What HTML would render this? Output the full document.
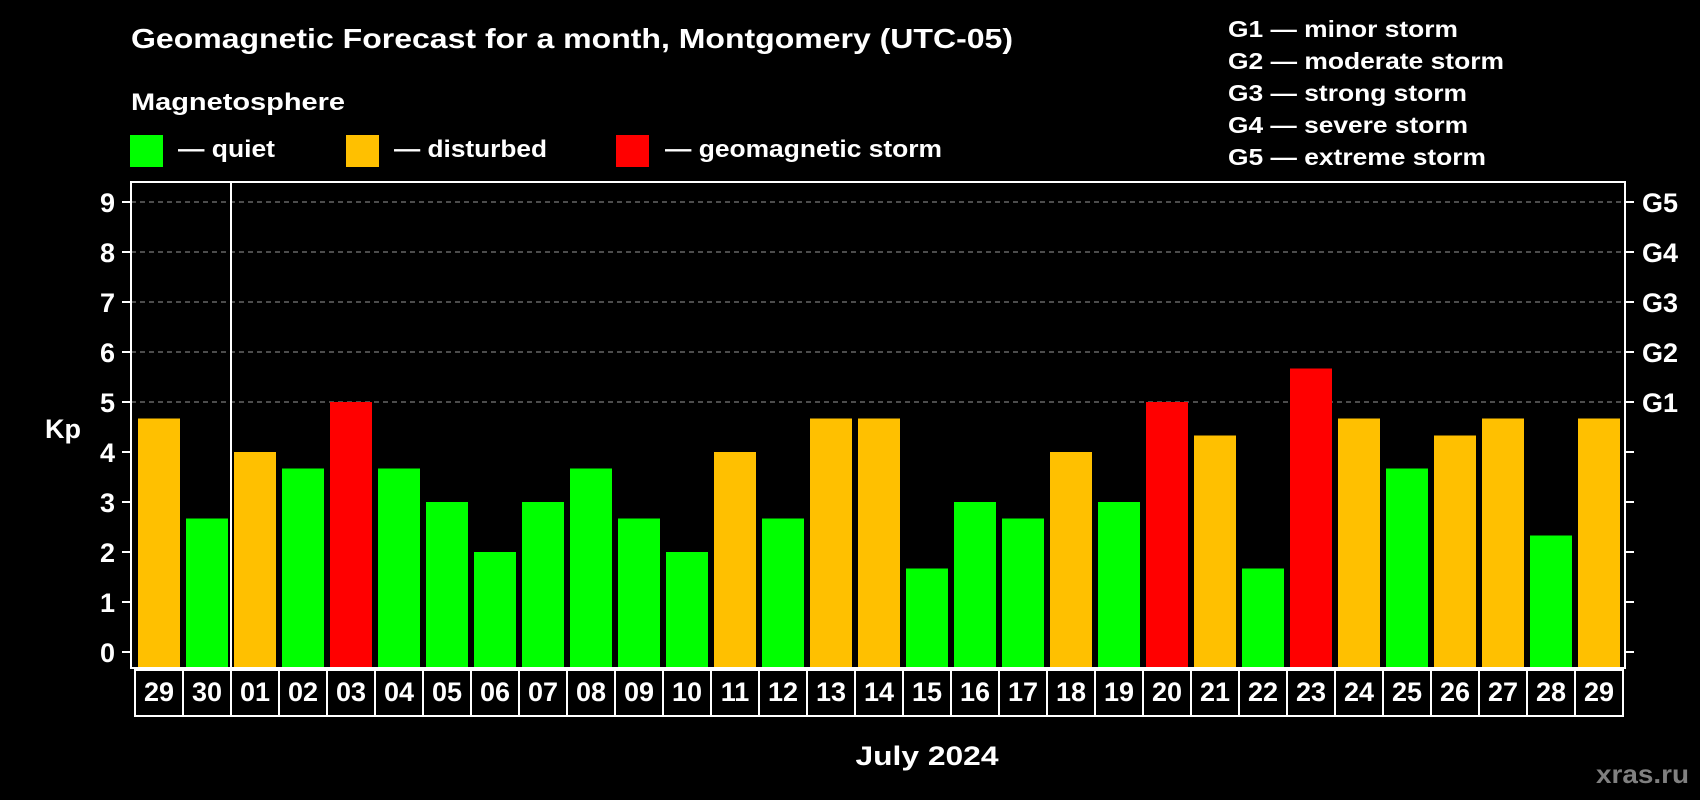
<!DOCTYPE html>
<html><head><meta charset="utf-8"><style>
html,body{margin:0;padding:0;background:#000;}
svg{display:block;font-family:"Liberation Sans",sans-serif;font-weight:bold;}
</style></head><body>
<svg id="chart" width="1700" height="800" viewBox="0 0 1700 800" xmlns="http://www.w3.org/2000/svg">
<rect width="1700" height="800" fill="#000"/>
<text x="131" y="48" font-size="28" fill="#fff" textLength="882" lengthAdjust="spacingAndGlyphs">Geomagnetic Forecast for a month, Montgomery (UTC-05)</text>
<text x="131" y="110" font-size="24" fill="#fff" textLength="214" lengthAdjust="spacingAndGlyphs">Magnetosphere</text>
<g>
<rect x="130" y="135" width="33" height="32" fill="#00ff00"/>
<text x="178" y="157" font-size="24" fill="#fff" textLength="97" lengthAdjust="spacingAndGlyphs">— quiet</text></g>
<g>
<rect x="346" y="135" width="33" height="32" fill="#ffc000"/>
<text x="394" y="157" font-size="24" fill="#fff" textLength="153" lengthAdjust="spacingAndGlyphs">— disturbed</text></g>
<g>
<rect x="616" y="135" width="33" height="32" fill="#ff0000"/>
<text x="665" y="157" font-size="24" fill="#fff" textLength="277" lengthAdjust="spacingAndGlyphs">— geomagnetic storm</text></g>
<g font-size="23" fill="#fff">
<text x="1228" y="37" textLength="230" lengthAdjust="spacingAndGlyphs">G1 — minor storm</text>
<text x="1228" y="69" textLength="276" lengthAdjust="spacingAndGlyphs">G2 — moderate storm</text>
<text x="1228" y="101" textLength="239" lengthAdjust="spacingAndGlyphs">G3 — strong storm</text>
<text x="1228" y="133" textLength="240" lengthAdjust="spacingAndGlyphs">G4 — severe storm</text>
<text x="1228" y="165" textLength="258" lengthAdjust="spacingAndGlyphs">G5 — extreme storm</text>
</g>
<g id="grid"></g>
<g id="bars"></g>
<g id="axes"></g>
<text x="63" y="438" font-size="27" fill="#fff" text-anchor="middle">Kp</text>
<text x="927" y="765" font-size="27" fill="#fff" text-anchor="middle" textLength="143" lengthAdjust="spacingAndGlyphs">July 2024</text>
<text x="1689" y="783" font-size="26" fill="#808080" text-anchor="end" textLength="93" lengthAdjust="spacingAndGlyphs">xras.ru</text>
</svg>
<script>
const days = ["29","30","01","02","03","04","05","06","07","08","09","10","11","12","13","14","15","16","17","18","19","20","21","22","23","24","25","26","27","28","29"];
const kpValues = [4.67,2.67,4,3.67,5,3.67,3,2,3,3.67,2.67,2,4,2.67,4.67,4.67,1.67,3,2.67,4,3,5,4.33,1.67,5.67,4.67,3.67,4.33,4.67,2.33,4.67];
const yTicks = [0,1,2,3,4,5,6,7,8,9];
const gLabels = ["G1","G2","G3","G4","G5"];
const gLevels = [5,6,7,8,9];

const NS = "http://www.w3.org/2000/svg";
const L = 131, R = 1625, T = 182, B = 668;
const y = v => 652 - v * 50;
const xStart = 138, pitch = 48, bw = 42;
const x = i => xStart + i * pitch;
function mk(tag, attrs, parent) {
  const e = document.createElementNS(NS, tag);
  for (const k in attrs) e.setAttribute(k, attrs[k]);
  parent.appendChild(e);
  return e;
}
const grid = document.getElementById("grid");
const bars = document.getElementById("bars");
const axes = document.getElementById("axes");
function color(v) { return v >= 5 ? "#ff0000" : (v >= 4 ? "#ffc000" : "#00ff00"); }

gLevels.forEach((lv, i) => {
  const g = mk("line", {x1: L, x2: R, y1: y(lv), y2: y(lv), stroke: "#999", "stroke-width": 1, "stroke-dasharray": "5,4"}, grid);
  
  
  const t = mk("text", {x: 1642, y: y(lv) + 10, "font-size": 27, fill: "#fff"}, axes);
  t.textContent = gLabels[i];
  
  
});

kpValues.forEach((v, i) => {
  const r = mk("rect", {x: x(i), y: y(v), width: bw, height: B - y(v), fill: color(v)}, bars);
  
  
  const bx = mk("rect", {x: x(i) - 3, y: 670, width: 48, height: 46, fill: "none", stroke: "#fff", "stroke-width": 2}, axes);
  
  
  const t = mk("text", {x: x(i) + bw / 2, y: 701, "font-size": 27, fill: "#fff", "text-anchor": "middle"}, axes);
  t.textContent = days[i];
  
  
});

const frame = mk("rect", {x: L, y: T, width: R - L, height: B - T, fill: "none", stroke: "#fff", "stroke-width": 2}, axes);


const sep = mk("line", {x1: 231, x2: 231, y1: T, y2: 716, stroke: "#fff", "stroke-width": 2}, axes);



yTicks.forEach(v => {
  const tl = mk("line", {x1: 122, x2: L, y1: y(v), y2: y(v), stroke: "#fff", "stroke-width": 2}, axes);
  
  
  const tr = mk("line", {x1: R, x2: 1634, y1: y(v), y2: y(v), stroke: "#fff", "stroke-width": 2}, axes);
  
  
  const t = mk("text", {x: 115, y: y(v) + 10, "font-size": 27, fill: "#fff", "text-anchor": "end"}, axes);
  t.textContent = v;
  
  
});
</script>
</body></html>
